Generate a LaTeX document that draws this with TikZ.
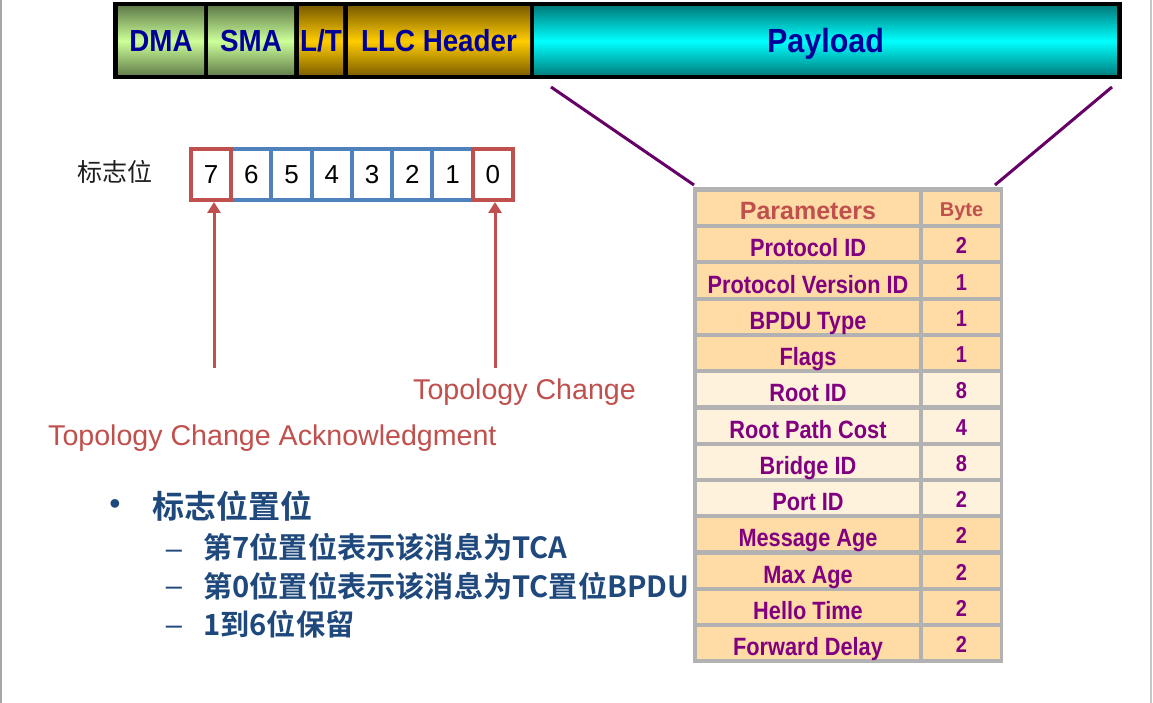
\documentclass[tikz,border=0pt]{standalone}
\usepackage{fontspec}
\setmainfont{Liberation Sans}
\setsansfont{Liberation Sans}
\newfontfamily\hdrf[FakeStretch=0.91]{Liberation Sans}
\newfontfamily\tblf[FakeStretch=0.87]{Liberation Sans}
\newfontfamily\cjk{Noto Sans CJK SC}
\newfontfamily\cjkb{Noto Sans CJK SC Bold}
\usetikzlibrary{arrows.meta}
\definecolor{hblue}{RGB}{0,0,153}
\definecolor{peach}{RGB}{255,219,165}
\definecolor{lightpeach}{RGB}{255,242,220}
\definecolor{tgray}{RGB}{178,178,178}
\definecolor{tpurple}{RGB}{128,0,128}
\definecolor{fred}{RGB}{192,80,77}
\definecolor{fblue}{RGB}{79,129,189}
\definecolor{lpurple}{RGB}{102,0,102}
\definecolor{bblue}{RGB}{31,73,125}
\definecolor{gdark}{RGB}{100,128,76}
\definecolor{glight}{RGB}{204,255,153}
\definecolor{odark}{RGB}{128,96,0}
\definecolor{olight}{RGB}{255,204,0}
\definecolor{cdark}{RGB}{0,128,128}
\definecolor{clight}{RGB}{0,255,255}
\tikzset{
  hcell/.style={inner sep=0, minimum height=68, text=hblue, text height=22, text depth=0,
    font=\hdrf\bfseries\fontsize{30.5}{32}\selectfont},
  green cell/.style={hcell, top color=gdark, bottom color=gdark, middle color=glight},
  gold cell/.style={hcell, top color=odark, bottom color=odark, middle color=olight},
  cyan cell/.style={hcell, top color=cdark, bottom color=cdark, middle color=clight},
  bitbox/.style={draw=fblue, line width=4, minimum width=40.25, minimum height=51, inner sep=0,
    font=\fontsize{26}{28}\selectfont},
  redbit/.style={bitbox, draw=fred},
  flagarrow/.style={draw=fred, line width=3, -{Triangle[width=13pt,length=11pt]}},
  lbl/.style={text=fred, font=\fontsize{28.6}{31}\selectfont, inner sep=0},
  pcell/.style={inner sep=0, minimum width=222, minimum height=32, text=tpurple,
    text height=25, text depth=0, font=\tblf\bfseries\fontsize{25}{27}\selectfont},
  bcell/.style={inner sep=0, minimum width=77, minimum height=32, text=tpurple,
    text height=19, text depth=0, font=\tblf\bfseries\fontsize{23}{25}\selectfont},
  pline/.style={draw=lpurple, line width=3},
  sub/.style={anchor=west, inner sep=0, text=bblue, font=\cjkb\fontsize{29.2}{32}\selectfont},
  dashnode/.style={anchor=base, inner sep=0, text=bblue, font=\fontsize{29}{30}\selectfont},
}
\begin{document}
\begin{tikzpicture}[x=1pt,y=-1pt]
\useasboundingbox (0,0) rectangle (1153,703);
\fill[white] (0,0) rectangle (1153,703);
\draw[color=black!35, line width=2] (1,0) -- (1,703);
\draw[color=black!22, line width=2] (1151,0) -- (1151,703);

% frame header
\node[fill=black, inner sep=0, minimum width=1009, minimum height=77] (frame) at (617.5,40.5) {};
\node[green cell, minimum width=86] (dma) at (161,41) {DMA};
\node[green cell, minimum width=86] (sma) at (251,41) {SMA};
\node[gold cell, minimum width=44] (lt) at (321,41) {L/T};
\node[gold cell, minimum width=182] (llc) at (439,41) {LLC Header};
\node[cyan cell, minimum width=583, font=\hdrf\bfseries\fontsize{33.5}{35}\selectfont, text height=24] (pay) at (825.5,41) {Payload};

% flag bits
\node[anchor=west, inner sep=0, text=black!88, font=\cjk\fontsize{25}{27}\selectfont] (flaglbl) at (77,172) {标志位};
\foreach \d/\i in {6/1,5/2,4/3,3/4,2/5,1/6}
  \node[bitbox] (b\d) at ({211.1+40.25*\i},174.5) {\d};
\node[redbit] (b7) at (211.1,174.5) {7};
\node[redbit] (b0) at (492.9,174.5) {0};

\coordinate (a7) at (214,368);
\coordinate (a0) at (495,368);
\draw[flagarrow] (a7) -- (a7 |- b7.south);
\draw[flagarrow] (a0) -- (a0 |- b0.south);
\node[lbl, anchor=base west] (tc) at (413,399) {Topology Change};
\node[lbl, anchor=base west] (tca) at (48,445) {Topology Change Acknowledgment};

% bullet list
\node[inner sep=0, text=bblue, font=\fontsize{32}{34}\selectfont] (bul) at (115,507) {\textbullet};
\node[anchor=west, inner sep=0, text=bblue, font=\cjkb\fontsize{32}{34}\selectfont] (l0) at (152,506) {标志位置位};
\node[dashnode] (d1) at (174,558.5) {–};
\node[dashnode] (d2) at (174,595) {–};
\node[dashnode] (d3) at (174,634.5) {–};
\node[sub] (l1) at (203,547.5) {第7位置位表示该消息为TCA};
\node[sub] (l2) at (203,586) {第0位置位表示该消息为TC置位BPDU};
\node[sub] (l3) at (203,624) {1到6位保留};

% BPDU table
\node[fill=tgray, inner sep=0, minimum width=310, minimum height=476] (tbl) at (848,425) {};
\node[pcell, fill=peach, text=fred, text height=24, font=\bfseries\fontsize{25}{27}\selectfont] (p0) at (808,208) {Parameters};
\node[bcell, fill=peach, text=fred, text height=18, font=\bfseries\fontsize{20}{22}\selectfont] (q0) at (961.5,208) {Byte};
\foreach \name/\val/\col [count=\i] in {
  Protocol ID/2/peach, Protocol Version ID/1/peach, BPDU Type/1/peach, Flags/1/peach,
  Root ID/8/lightpeach, Root Path Cost/4/lightpeach, Bridge ID/8/lightpeach, Port ID/2/lightpeach,
  Message Age/2/peach, Max Age/2/peach, Hello Time/2/peach, Forward Delay/2/peach}
{
  \node[pcell, fill=\col] (p\i) at (808,{208+36.25*\i}) {\name};
  \node[bcell, fill=\col] (q\i) at (961.5,{208+36.25*\i}) {\val};
}

% zoom lines
\coordinate (z1) at (551,87);
\coordinate (z2) at (694,185);
\coordinate (z3) at (1112,87);
\coordinate (z4) at (995,185);
\draw[pline] (z1) -- (z2);
\draw[pline] (z3) -- (z4);
\end{tikzpicture}
\end{document}
